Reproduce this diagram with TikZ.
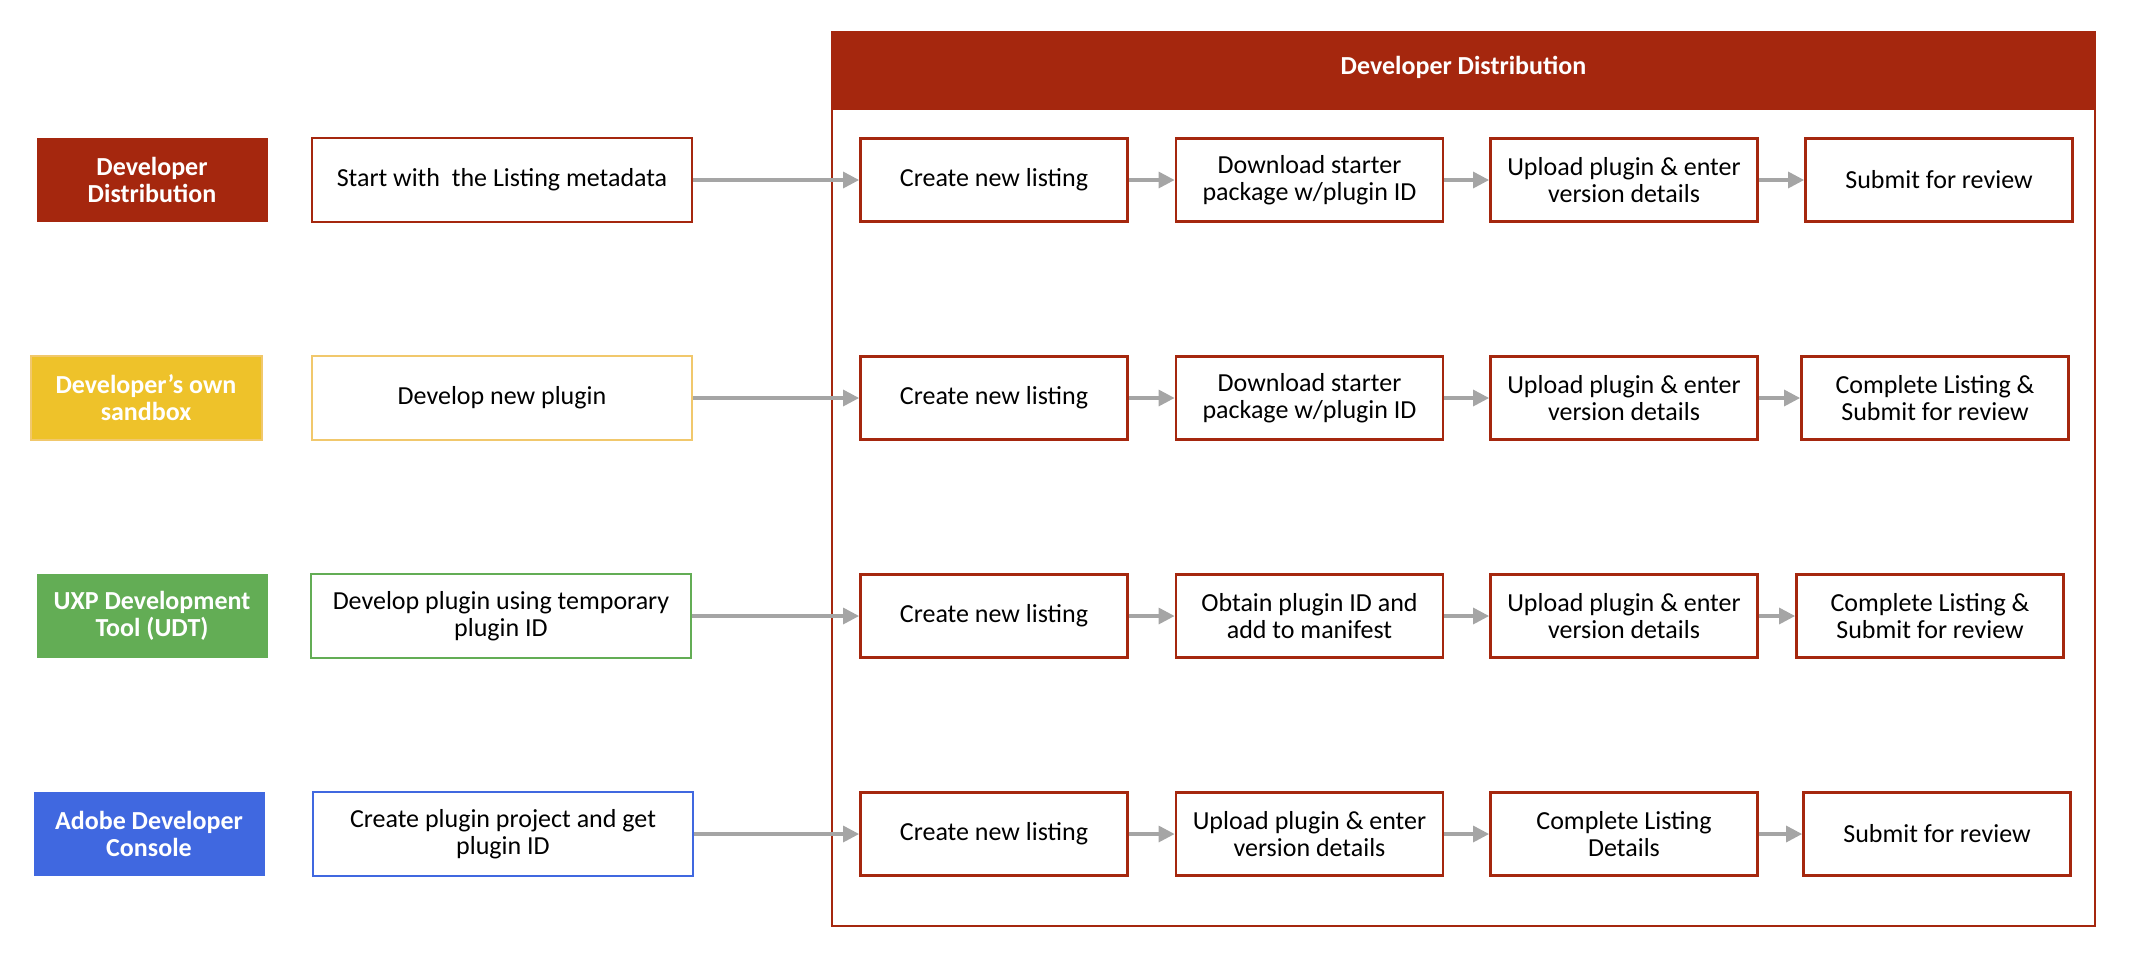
\documentclass[tikz,border=0pt]{standalone}
\usepackage{fontspec}
\setmainfont{Carlito}
\usetikzlibrary{arrows.meta}
\definecolor{ddred}{HTML}{A5270E}
\definecolor{ddyellow}{HTML}{EEC22A}
\definecolor{ddyellowline}{HTML}{F1C86C}
\definecolor{ddgreen}{HTML}{63AD55}
\definecolor{ddblue}{HTML}{4068E0}
\definecolor{arrowgray}{HTML}{A5A5A5}
\tikzset{
  basefont/.style={font=\fontsize{13pt}{13.5pt}\selectfont},
  boldfont/.style={font=\fontsize{13pt}{13.5pt}\selectfont\bfseries},
  lab/.style={boldfont, text=white, minimum width=115.5pt, minimum height=42pt, align=center, inner sep=0pt},
  startbox/.style={basefont, draw=#1, fill=white, line width=1.4pt, minimum width=190pt, minimum height=42pt, align=center, inner sep=0pt},
  flowbox/.style={basefont, draw=ddred, fill=white, line width=1.4pt, minimum width=133.5pt, minimum height=41.5pt, align=center, inner sep=0pt},
  conn/.style={draw=arrowgray, line width=1.6pt, -{Triangle[length=8pt,width=8pt]}},
}
\begin{document}
\begin{tikzpicture}[x=0.5pt,y=-0.5pt]
\useasboundingbox (0,0) rectangle (2141,960);
% container
\draw[ddred, line width=1.3pt] (832,32) rectangle (2095,926);
\fill[ddred] (832,32) rectangle (2095,110);
\node[boldfont, text=white] (hdr) at (1463.5,67) {Developer Distribution};

% left labels
\node[lab, fill=ddred] (l1) at (152,180) {Developer\\Distribution};
\node[lab, fill=ddyellow, draw=ddyellowline, line width=1pt] (l2) at (146,398) {Developer’s own\\sandbox};
\node[lab, fill=ddgreen] (l3) at (152,616) {UXP Development\\Tool (UDT)};
\node[lab, fill=ddblue] (l4) at (149,834) {Adobe Developer\\Console};

% start boxes
\node[startbox=ddred] (s1) at (502,180) {Start with \ the Listing metadata};
\node[startbox=ddyellowline] (s2) at (502,398) {Develop new plugin};
\node[startbox=ddgreen] (s3) at (501,616) {Develop plugin using temporary\\plugin ID};
\node[startbox=ddblue] (s4) at (503,834) {Create plugin project and get\\plugin ID};

% row 1
\node[flowbox] (a1) at (994,180) {Create new listing};
\node[flowbox] (a2) at (1309.5,180) {Download starter\\package w/plugin ID};
\node[flowbox] (a3) at (1624,180) {Upload plugin \& enter\\version details};
\node[flowbox] (a4) at (1939,180) {Submit for review};
% row 2
\node[flowbox] (b1) at (994,398) {Create new listing};
\node[flowbox] (b2) at (1309.5,398) {Download starter\\package w/plugin ID};
\node[flowbox] (b3) at (1624,398) {Upload plugin \& enter\\version details};
\node[flowbox] (b4) at (1935,398) {Complete Listing \&\\Submit for review};
% row 3
\node[flowbox] (c1) at (994,616) {Create new listing};
\node[flowbox] (c2) at (1309.5,616) {Obtain plugin ID and\\add to manifest};
\node[flowbox] (c3) at (1624,616) {Upload plugin \& enter\\version details};
\node[flowbox] (c4) at (1930,616) {Complete Listing \&\\Submit for review};
% row 4
\node[flowbox] (d1) at (994,834) {Create new listing};
\node[flowbox] (d2) at (1309.5,834) {Upload plugin \& enter\\version details};
\node[flowbox] (d3) at (1624,834) {Complete Listing\\Details};
\node[flowbox] (d4) at (1937,834) {Submit for review};

% connectors
\foreach \r in {a,b,c,d}{
  \draw[conn] (\r1) -- (\r2);
  \draw[conn] (\r2) -- (\r3);
  \draw[conn] (\r3) -- (\r4);
}
\draw[conn] (s1) -- (a1);
\draw[conn] (s2) -- (b1);
\draw[conn] (s3) -- (c1);
\draw[conn] (s4) -- (d1);
\end{tikzpicture}
\end{document}
